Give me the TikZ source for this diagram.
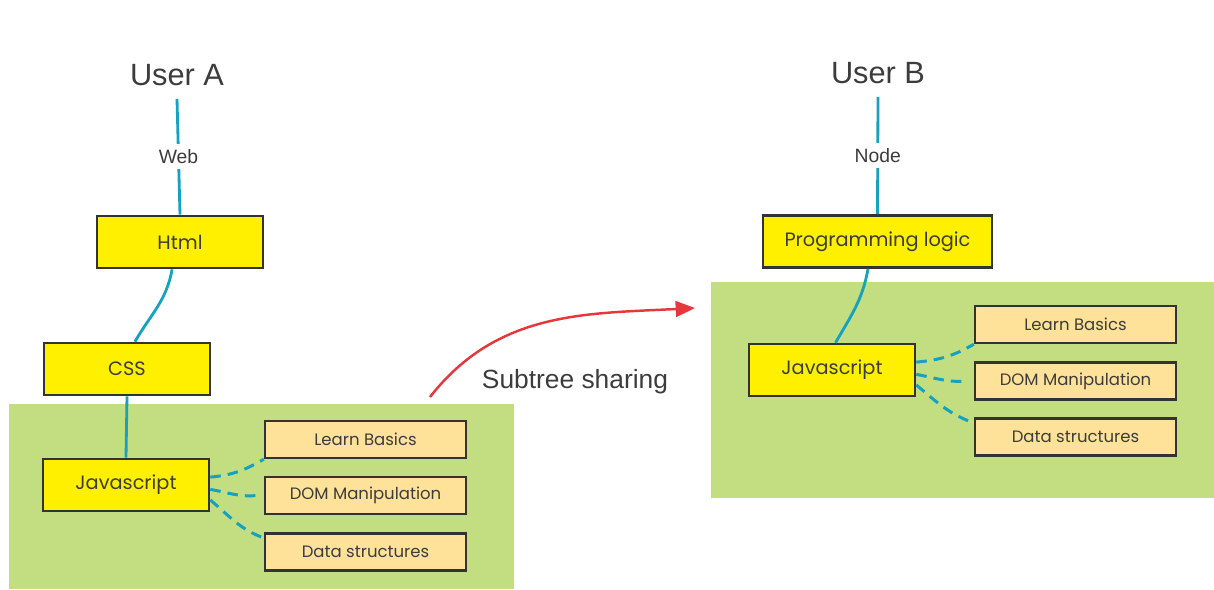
\documentclass[tikz,border=0pt]{standalone}
\usepackage{fontspec}
\setmainfont{Liberation Sans}
\newfontfamily\boxfont{Poppins}
\usepackage{xcolor}
\usepackage{tikz}
\usetikzlibrary{arrows.meta, positioning}
\definecolor{boxyellow}{RGB}{255, 240, 0}
\definecolor{boxpeach}{RGB}{255, 226, 153}
\definecolor{subtreegreen}{RGB}{194, 222, 128}
\definecolor{linkteal}{RGB}{20, 162, 192}
\definecolor{borderdark}{RGB}{51, 51, 51}
\definecolor{sharered}{RGB}{232, 55, 60}
\definecolor{textgray}{RGB}{60, 60, 60}

\tikzset{
    topic/.style={draw=borderdark, line width=1.5pt, fill=boxyellow, minimum width=3.32cm,
        minimum height=1.04cm, font=\boxfont\fontsize{11}{13}\selectfont, text=textgray},
    subtopic/.style={draw=borderdark, line width=1.4pt, fill=boxpeach, minimum width=4.02cm,
        minimum height=0.74cm, font=\boxfont\fontsize{9.4}{11}\selectfont, text=textgray},
    user/.style={font=\fontsize{17.5}{21}\selectfont, text=textgray},
    link/.style={linkteal, line width=1.6pt},
    sublink/.style={linkteal, line width=1.7pt, dash pattern=on 6pt off 4pt},
    tracklabel/.style={fill=white, font=\fontsize{11}{13}\selectfont, text=textgray, inner sep=3pt}
}

\begin{document}
\begin{tikzpicture}[x=0.02cm, y=-0.02cm]
\useasboundingbox (0,0) rectangle (1214,589);

% shared subtree areas
\fill[subtreegreen] (9,404) rectangle (514,589);
\fill[subtreegreen] (711,282) rectangle (1214,498);

% User A: Web track
\node[user] (userA) at (177,75) {User A};
\node[topic] (htmlA) at (180,242) {Html};
\node[topic] (cssA) at (127,369) {CSS};
\node[topic] (jsA) at (126,485) {Javascript};
\node[subtopic] (lbA) at (365.5,439.5) {Learn Basics};
\node[subtopic] (domA) at (365.5,495.5) {DOM Manipulation};
\node[subtopic] (dsA) at (365.5,552) {Data structures};

\draw[link] ([yshift=-4pt]userA.south) -- node[tracklabel] {Web} (htmlA.north);
\draw[link] ([xshift=-4.5pt]htmlA.south) to[out=-100, in=60] ([xshift=4.5pt]cssA.north);
\draw[link] (cssA.south) -- (jsA.north);
\draw[sublink] ([yshift=4.5pt]jsA.east) to[out=5, in=-150] (lbA.south west);
\draw[sublink] ([yshift=-2.5pt]jsA.east) to[out=-10, in=185] ([xshift=-4pt]domA.west);
\draw[sublink] ([yshift=-8.5pt]jsA.east) to[out=-40, in=160] ([yshift=8pt]dsA.west);

% User B: Node track
\node[user] (userB) at (878,73) {User B};
\node[topic, minimum width=4.58cm] (plB) at (877.5,241.5) {Programming logic};
\node[topic] (jsB) at (832,370) {Javascript};
\node[subtopic] (lbB) at (1075.5,324.5) {Learn Basics};
\node[subtopic] (domB) at (1075.5,381) {DOM Manipulation};
\node[subtopic] (dsB) at (1075.5,437) {Data structures};

\draw[link] ([yshift=-4pt]userB.south) -- node[tracklabel] {Node} (plB.north);
\draw[link] ([xshift=-5.4pt]plB.south) to[out=-100, in=60] ([xshift=2pt]jsB.north);
\draw[sublink] ([yshift=4.5pt]jsB.east) to[out=5, in=-150] (lbB.south west);
\draw[sublink] ([yshift=-2.5pt]jsB.east) to[out=-10, in=185] ([xshift=-4pt]domB.west);
\draw[sublink] ([yshift=-8.5pt]jsB.east) to[out=-40, in=160] ([yshift=8pt]dsB.west);

% subtree sharing arrow
\coordinate (shareStart) at (430,397);
\coordinate (shareEnd) at (695,308);
\draw[sharered, line width=1.4pt, -{Triangle[length=11pt, width=9pt]}] (shareStart) to[out=52, in=183] (shareEnd);
\node[font=\fontsize{15}{18}\selectfont, text=textgray] (shareLabel) at (575,382) {Subtree sharing};
\end{tikzpicture}
\end{document}
